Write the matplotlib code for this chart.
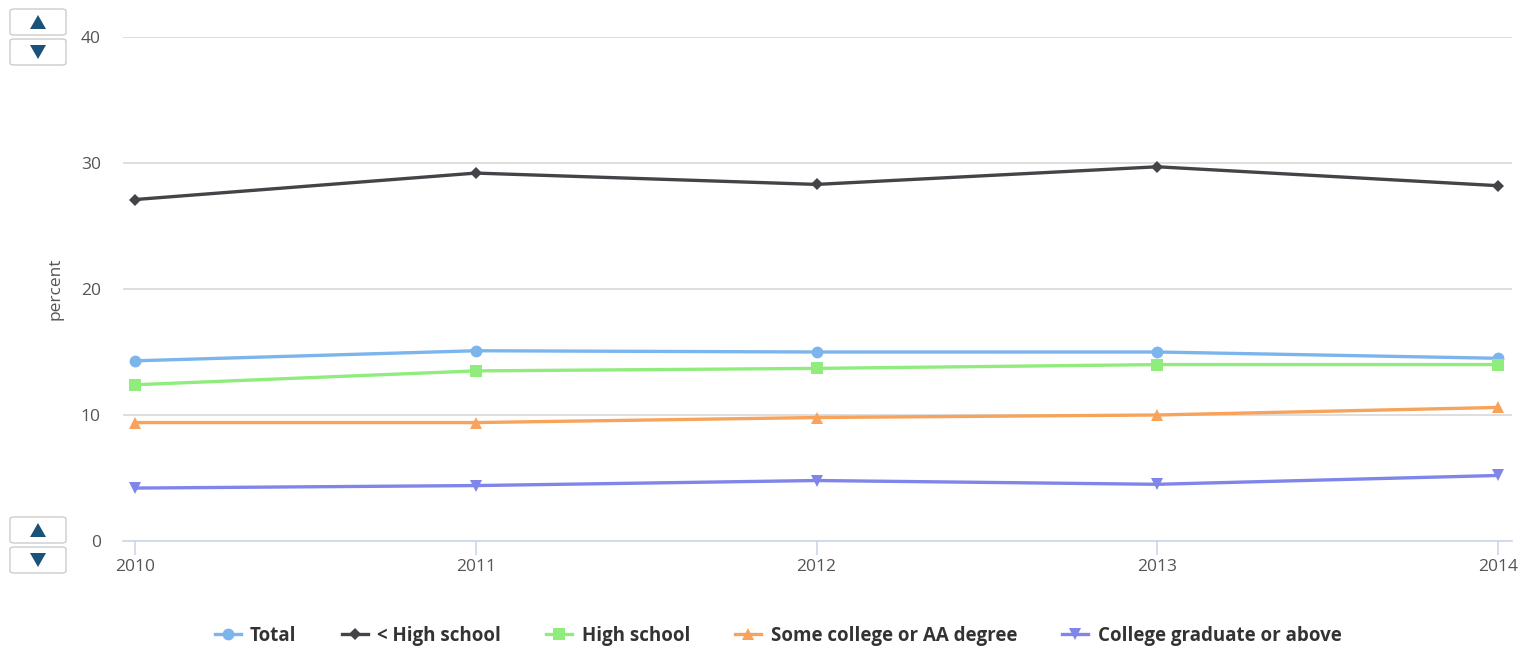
import matplotlib
matplotlib.use("Agg")
import matplotlib.pyplot as plt
from matplotlib.patches import FancyBboxPatch, Polygon

plt.rcParams['font.family'] = ['Open Sans', 'DejaVu Sans']

years = [2010, 2011, 2012, 2013, 2014]
series_names = ["Total", "< High school", "High school",
                "Some college or AA degree", "College graduate or above"]
total = [14.3, 15.1, 15.0, 15.0, 14.5]
less_hs = [27.1, 29.2, 28.3, 29.7, 28.2]
high_school = [12.4, 13.5, 13.7, 14.0, 14.0]
some_college = [9.4, 9.4, 9.8, 10.0, 10.6]
college_grad = [4.2, 4.4, 4.8, 4.5, 5.2]
y_ticks = [0, 10, 20, 30, 40]

colors = ["#7cb5ec", "#434348", "#90ed7d", "#f7a35c", "#8085e9"]
markers = ["o", "D", "s", "^", "v"]
msizes = [8.5, 6.5, 8.5, 9, 9]

W, H = 1530, 650
fig = plt.figure(figsize=(W / 100, H / 100), dpi=100)
ax = fig.add_axes([123 / W, 1 - 541 / H, (1512 - 123) / W, (541 - 37) / H])

data = [total, less_hs, high_school, some_college, college_grad]
handles = []
for vals, name, c, m, ms in zip(data, series_names, colors, markers, msizes):
    h, = ax.plot(years, vals, color=c, marker=m, markersize=ms, lw=2.4,
                 markeredgewidth=0, label=name, zorder=3)
    handles.append(h)

ax.set_xlim(2010 - 12 / 340.75, 2014 + 14 / 340.75)
ax.set_ylim(0, 40)
ax.set_yticks(y_ticks)
ax.set_xticks(years)
ax.set_xticklabels([str(y) for y in years])
ax.grid(axis='y', color="#d8d8d8", lw=1.2, zorder=0)
for s in ["top", "right", "left"]:
    ax.spines[s].set_visible(False)
ax.spines["bottom"].set_color("#ccd6eb")
ax.spines["bottom"].set_linewidth(1.2)
ax.tick_params(axis='x', colors="#ccd6eb", length=10, width=1.2, labelcolor="#555555",
               labelsize=12.5, pad=3)
ax.tick_params(axis='y', length=0, labelcolor="#555555", labelsize=12.5, pad=16)
ax.set_ylabel("percent", color="#555555", fontsize=12.5)
ax.yaxis.set_label_coords((63 - 123) / (1512 - 123), 0.5)

leg = fig.legend(handles=handles, loc="center",
                 bbox_to_anchor=(0.5 + 13 / W, 1 - 636 / H),
                 ncol=5, frameon=False, handlelength=1.4, columnspacing=2.4,
                 handletextpad=0.5, prop={'size': 13.5, 'weight': 'bold'})
for t in leg.get_texts():
    t.set_color("#333333")

# zoom buttons on the left side
def button(x0, y0, up):
    w, h = 56, 26
    fx, fy = x0 / W, 1 - (y0 + h) / H
    fig.add_artist(FancyBboxPatch((fx, fy), w / W, h / H,
                                  boxstyle="round,pad=0,rounding_size=0.003",
                                  transform=fig.transFigure, facecolor="white",
                                  edgecolor="#cccccc", lw=1.0))
    cx, cy = x0 + w / 2, y0 + h / 2
    if up:
        pts = [(cx - 8, cy + 7), (cx + 8, cy + 7), (cx, cy - 7)]
    else:
        pts = [(cx - 8, cy - 7), (cx + 8, cy - 7), (cx, cy + 7)]
    pts = [(px / W, 1 - py / H) for px, py in pts]
    fig.add_artist(Polygon(pts, closed=True, transform=fig.transFigure,
                           facecolor="#1b5279", edgecolor="none"))

button(10, 9, True)
button(10, 39, False)
button(10, 517, True)
button(10, 547, False)

fig.savefig("out.png", dpi=100, facecolor="white")
